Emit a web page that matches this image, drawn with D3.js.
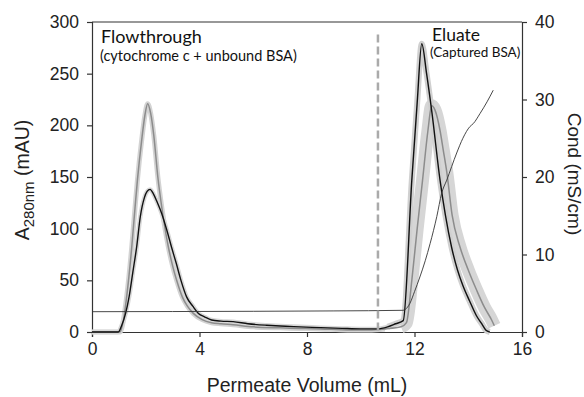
<!DOCTYPE html>
<html><head><meta charset="utf-8">
<script src="https://cdn.jsdelivr.net/npm/d3@7"></script>
<style>body{margin:0;background:#fff}svg{display:block}</style>
</head><body><svg id="c" width="584" height="397"></svg>
<script>
// ---- data ----
const xTicks = [0, 4, 8, 12, 16];
const yTicks = [0, 50, 100, 150, 200, 250, 300];
const condTicks = [0, 10, 20, 30, 40];

// black trace (A280, mAU)
const blackVol  = [0, 0.8, 0.98, 1.1, 1.25, 1.38, 1.52, 1.66, 1.8, 1.95, 2.05, 2.16, 2.28, 2.42, 2.59, 2.78, 2.96, 3.14, 3.31, 3.52, 3.75, 3.96, 4.2, 4.45, 4.8, 5.25, 5.8, 6.5, 7.2, 7.74, 8.5, 9.3, 10.0, 10.6, 11.0, 11.3, 11.58, 11.9, 12.1, 12.27, 12.45, 12.65, 12.95, 13.15, 13.38, 13.6, 13.8, 14.05, 14.3, 14.5, 14.65, 14.8];
const blackA280 = [0, 0, 0, 6, 18, 34, 58, 82, 112, 130, 136, 138, 134, 126, 115, 99, 82, 66, 50, 34, 25, 18, 14.5, 11.6, 10.5, 10, 8, 6.5, 5.5, 5, 4.2, 3.5, 3, 3, 5, 8, 11, 147, 222, 279, 250, 212, 147, 113, 82, 60, 45, 30, 16, 8, 2, 0];

// grey trace (A280, mAU)
const greyVol  = [0, 0.85, 1.04, 1.17, 1.29, 1.48, 1.6, 1.69, 1.85, 1.97, 2.07, 2.18, 2.3, 2.45, 2.6, 2.84, 3.0, 3.15, 3.36, 3.55, 3.77, 4.1, 4.45, 4.8, 5.25, 6.0, 7.0, 7.74, 8.5, 9.5, 10.3, 10.9, 11.5, 11.7, 11.9, 12.1, 12.3, 12.5, 12.64, 12.76, 12.95, 13.07, 13.2, 13.4, 13.69, 14.0, 14.31, 14.6, 14.87, 14.97];
const greyA280 = [0, 0, 0, 11.6, 34, 82.5, 120, 147, 186, 210, 221, 212, 190, 150, 120, 82.5, 64, 50, 34, 25, 18, 12, 9, 8, 7, 5, 4, 3.5, 3, 2, 2, 3, 5, 9, 50, 100, 147, 195, 219, 215, 195, 176, 155, 113, 82.5, 60, 40.6, 24, 11.6, 6];

// conductivity (mS/cm)
const condVol = [0, 3, 6, 9, 11.57, 11.65, 11.83, 12.0, 12.2, 12.4, 12.58, 12.83, 13.01, 13.2, 13.57, 13.8, 14.06, 14.19, 14.44, 14.7, 14.93];
const condVal = [2.62, 2.64, 2.67, 2.72, 2.8, 2.9, 3.7, 5.2, 7.1, 9.2, 11.4, 14.9, 17.9, 19.6, 23.1, 25.0, 26.5, 26.9, 28.2, 29.7, 31.2];

const elutionStart = 10.64; // dashed divider (mL)
const dividerTop = 288;     // mAU

// ---- chart ----
const svg = d3.select("#c");
const x = d3.scaleLinear().domain([0, 16]).range([92, 522]);
const y = d3.scaleLinear().domain([0, 300]).range([332, 22]);
const yc = d3.scaleLinear().domain([0, 40]).range([332, 22]);

const tickFont = "'Liberation Sans', Arial, Helvetica, sans-serif";
function styleAxis(g){
  g.selectAll("path.domain").attr("stroke","#333").attr("stroke-width",1.2);
  g.selectAll(".tick line").attr("stroke","#333").attr("stroke-width",1.2);
  g.selectAll(".tick text").attr("font-family",tickFont).attr("font-size","17.5px").attr("fill","#222");
}
// frame top line
svg.append("line").attr("x1",x(0)).attr("x2",x(16)).attr("y1",y(300)).attr("y2",y(300)).attr("stroke","#333").attr("stroke-width",1.2);

svg.append("g").attr("transform",`translate(0,${y(0)})`)
  .call(d3.axisBottom(x).tickValues(xTicks).tickSizeOuter(0).tickSize(5).tickPadding(6))
  .call(styleAxis);
svg.append("g").attr("transform",`translate(${x(0)},0)`)
  .call(d3.axisLeft(y).tickValues(yTicks).tickSizeOuter(0).tickSize(5).tickPadding(8))
  .call(styleAxis);
svg.append("g").attr("transform",`translate(${x(16)},0)`)
  .call(d3.axisRight(yc).tickValues(condTicks).tickSizeOuter(0).tickSize(5).tickPadding(8))
  .call(styleAxis);

const black = blackVol.map((v,i)=>({v, a: blackA280[i]}));
const grey  = greyVol.map((v,i)=>({v, a: greyA280[i]}));
const cond  = condVol.map((v,i)=>({v, c: condVal[i]}));

const lineA = d3.line().x(d=>x(d.v)).y(d=>y(d.a)).curve(d3.curveMonotoneX);
const lineC = d3.line().x(d=>x(d.v)).y(d=>yc(d.c)).curve(d3.curveMonotoneX);

const plot = svg.append("g");
// bands
plot.append("path").datum(grey.filter(d=>d.v<=11.0)).attr("d",lineA)
  .attr("fill","none").attr("stroke","#d3d3d3").attr("stroke-width",5).attr("stroke-linejoin","round");
plot.append("path").datum(grey.filter(d=>d.v>=11.0)).attr("d",lineA)
  .attr("fill","none").attr("stroke","#d6d6d6").attr("stroke-width",13).attr("stroke-linejoin","round");
plot.append("path").datum(black.filter(d=>d.v<=11.0)).attr("d",lineA)
  .attr("fill","none").attr("stroke","#d8d8d8").attr("stroke-width",4.5).attr("stroke-linejoin","round");
plot.append("path").datum(black.filter(d=>d.v>=11.0)).attr("d",lineA)
  .attr("fill","none").attr("stroke","#d0d0d0").attr("stroke-width",6).attr("stroke-linejoin","round");
// lines
plot.append("path").datum(grey).attr("d",lineA)
  .attr("fill","none").attr("stroke","#8c8c8c").attr("stroke-width",1.5);
plot.append("path").datum(black).attr("d",lineA)
  .attr("fill","none").attr("stroke","#111").attr("stroke-width",1.4);
plot.append("path").datum(cond).attr("d",lineC)
  .attr("fill","none").attr("stroke","#333").attr("stroke-width",0.9);

// divider
svg.append("line").attr("x1",x(elutionStart)).attr("x2",x(elutionStart))
  .attr("y1",y(dividerTop)).attr("y2",y(0))
  .attr("stroke","#aaa").attr("stroke-width",2.5).attr("stroke-dasharray","8,4");

// annotations
const annFont = "Lato, 'Open Sans', sans-serif";
svg.append("text").attr("x",101).attr("y",43).attr("font-family",annFont).attr("font-size","18px").attr("fill","#111").text("Flowthrough");
svg.append("text").attr("x",100).attr("y",61).attr("font-family",annFont).attr("font-size","14.5px").attr("fill","#111").text("(cytochrome c + unbound BSA)");
svg.append("text").attr("x",432).attr("y",41).attr("font-family",annFont).attr("font-size","17.5px").attr("fill","#111").text("Eluate");
svg.append("text").attr("x",430).attr("y",57).attr("font-family",annFont).attr("font-size","13.5px").attr("fill","#111").text("(Captured BSA)");

// axis titles
svg.append("text").attr("x",307).attr("y",392).attr("text-anchor","middle")
  .attr("font-family",tickFont).attr("font-size","19.5px").attr("fill","#222").text("Permeate Volume (mL)");
const yl = svg.append("text").attr("transform","translate(29,180) rotate(-90)").attr("text-anchor","middle")
  .attr("font-family",tickFont).attr("font-size","19.5px").attr("fill","#222");
yl.append("tspan").text("A");
yl.append("tspan").attr("font-size","15px").attr("dy",5).text("280nm");
yl.append("tspan").attr("dy",-5).text(" (mAU)");
svg.append("text").attr("transform","translate(568,174) rotate(90)").attr("text-anchor","middle")
  .attr("font-family",tickFont).attr("font-size","19px").attr("fill","#222").text("Cond (mS/cm)");
</script></body></html>
